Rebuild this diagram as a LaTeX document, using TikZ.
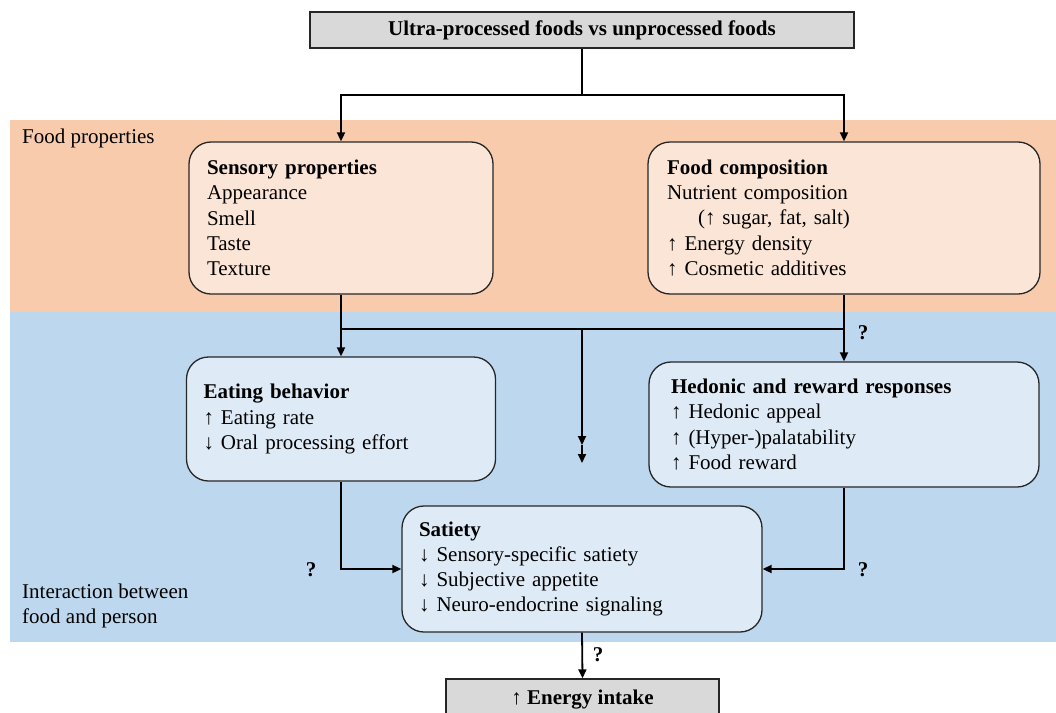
\documentclass[tikz,border=0pt]{standalone}
\usepackage{fontspec}
\setmainfont{Liberation Serif}
\usetikzlibrary{arrows.meta}
\definecolor{peachband}{HTML}{F8CBAD}
\definecolor{peachbox}{HTML}{FBE5D6}
\definecolor{blueband}{HTML}{BDD7EE}
\definecolor{bluebox}{HTML}{DEEBF7}
\definecolor{greybox}{HTML}{D9D9D9}
\definecolor{edge}{HTML}{262626}
\tikzset{
  every node/.style={font=\fontsize{21}{25.3}\selectfont},
  rbox/.style={draw=edge, line width=1.3pt, rounded corners=22pt, align=left,
    inner xsep=18pt, inner ysep=0pt},
  gbox/.style={draw=edge, line width=1.3pt, fill=greybox, inner sep=0pt,
    font=\fontsize{21}{25.3}\selectfont\bfseries},
  conn/.style={line width=1.8pt, draw=black},
  arr/.style={conn, -{Triangle[length=9pt,width=8pt]}},
  qm/.style={font=\fontsize{21}{25.3}\selectfont\bfseries, inner sep=0pt},
  lbl/.style={anchor=west, align=left, inner sep=0pt}
}
\begin{document}
\begin{tikzpicture}[x=1pt,y=-1pt]
\clip (0,0) rectangle (1056,712);
\fill[white] (0,0) rectangle (1056,712);
% bands
\fill[peachband] (10,120) rectangle (1056,312);
\fill[blueband] (10,312) rectangle (1056,642);
\node[lbl] (lfood) at (22,138) {Food properties};
\node[lbl] (linter) at (22,606) {Interaction between\\food and person};
% boxes
\node[gbox, minimum width=544pt, minimum height=36pt] (top) at (582,30)
  {Ultra-processed foods vs unprocessed foods};
\node[rbox, fill=peachbox, text width=268pt, minimum height=152pt] (sens) at (341,218)
  {\textbf{Sensory properties}\\Appearance\\Smell\\Taste\\Texture};
\node[rbox, fill=peachbox, text width=354pt, minimum height=152pt, inner xsep=19pt] (comp) at (844,218)
  {\textbf{Food composition}\\Nutrient composition\\\hspace*{31pt}(↑ sugar, fat, salt)\\↑ Energy density\\↑ Cosmetic additives};
\node[rbox, fill=bluebox, text width=275pt, minimum height=124pt, inner xsep=17pt] (eat) at (341,419)
  {\textbf{Eating behavior}\\↑ Eating rate\\↓ Oral processing effort};
\node[rbox, fill=bluebox, text width=346pt, minimum height=125pt, inner xsep=22pt] (hed) at (844,424.5)
  {\textbf{Hedonic and reward responses}\\↑ Hedonic appeal\\↑ (Hyper-)palatability\\↑ Food reward};
\node[rbox, fill=bluebox, text width=326pt, minimum height=126pt, inner xsep=17pt] (sat) at (582,569)
  {\textbf{Satiety}\\↓ Sensory-specific satiety\\↓ Subjective appetite\\↓ Neuro-endocrine signaling};
\node[gbox, minimum width=273pt, minimum height=42pt] (energy) at (582.5,700)
  {↑ Energy intake};
% connectors
\coordinate (j1) at (582,95);
\coordinate (j2l) at (341,329);
\coordinate (j2c) at (582,329);
\coordinate (j2r) at (844,329);
\coordinate (mid1) at (582,445);
\coordinate (mid2) at (582,463);
\draw[conn] (top.south) -- (j1);
\draw[arr] (j1) -| (sens.north);
\draw[arr] (j1) -| (comp.north);
\draw[arr] (sens.south) -- (eat.north);
\draw[arr] (comp.south) -- (hed.north);
\draw[conn] (j2l) -- (j2r);
\draw[arr] (j2c) -- (mid1);
\draw[arr] (mid1) -- (mid2);
\draw[arr] (eat.south) |- (sat.west);
\draw[arr] (hed.south) |- (sat.east);
\draw[arr] (sat.south) -- (energy.north);
% question marks
\node[qm] (q1) at (863,333) {?};
\node[qm] (q2) at (311,570) {?};
\node[qm] (q3) at (863,570) {?};
\node[qm] (q4) at (598,655) {?};
\end{tikzpicture}
\end{document}
